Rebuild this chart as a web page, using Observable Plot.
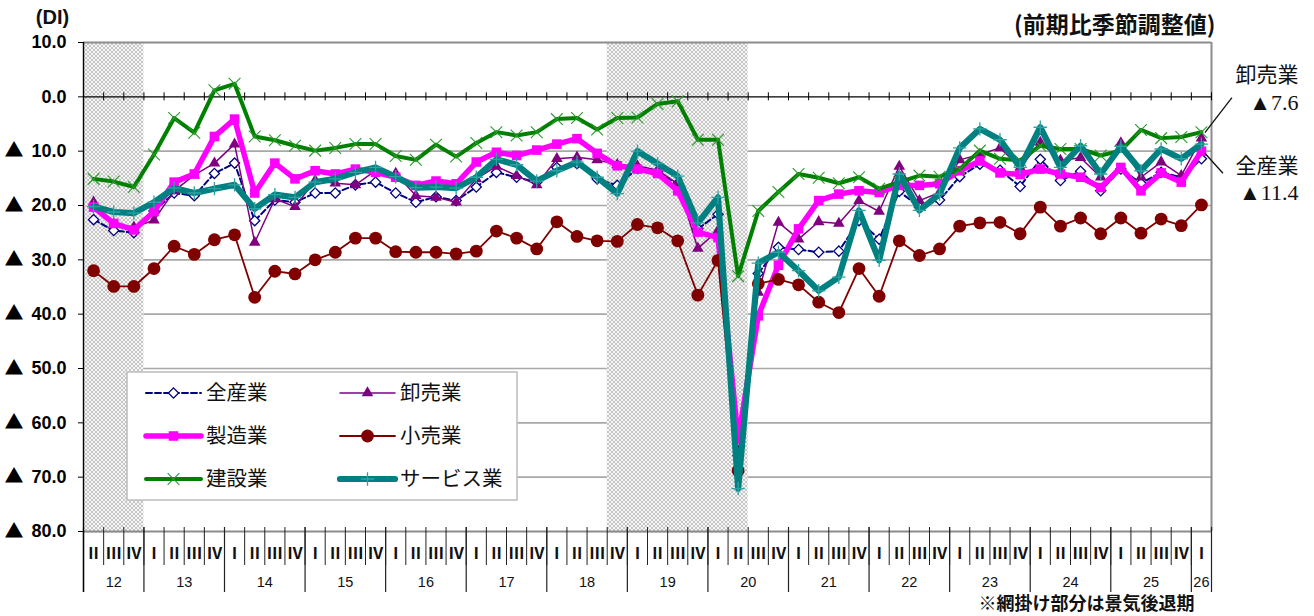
<!DOCTYPE html>
<html><head><meta charset="utf-8">
<script src="https://cdn.jsdelivr.net/npm/d3@7"></script>
<script src="https://cdn.jsdelivr.net/npm/@observablehq/plot@0.6"></script>
<style>
html,body{margin:0;padding:0;background:#fff;}
#chart{position:relative;width:1314px;height:616px;overflow:hidden;}
</style></head><body><div id="chart"></div>
<script>
// ---- data ----
const years = ["12","13","14","15","16","17","18","19","20","21","22","23","24","25","26"];
const quarterNames = [
  "Ⅱ","Ⅲ","Ⅳ",
  "Ⅰ","Ⅱ","Ⅲ","Ⅳ", "Ⅰ","Ⅱ","Ⅲ","Ⅳ", "Ⅰ","Ⅱ","Ⅲ","Ⅳ", "Ⅰ","Ⅱ","Ⅲ","Ⅳ",
  "Ⅰ","Ⅱ","Ⅲ","Ⅳ", "Ⅰ","Ⅱ","Ⅲ","Ⅳ", "Ⅰ","Ⅱ","Ⅲ","Ⅳ", "Ⅰ","Ⅱ","Ⅲ","Ⅳ",
  "Ⅰ","Ⅱ","Ⅲ","Ⅳ", "Ⅰ","Ⅱ","Ⅲ","Ⅳ", "Ⅰ","Ⅱ","Ⅲ","Ⅳ", "Ⅰ","Ⅱ","Ⅲ","Ⅳ",
  "Ⅰ","Ⅱ","Ⅲ","Ⅳ",
  "Ⅰ"
];
const recessionStart = ["12Ⅱ", "18Ⅳ"];
const recessionEnd   = ["12Ⅳ", "20Ⅱ"];

const seriesNames = ["全産業","卸売業","製造業","小売業","建設業","サービス業"];

const allIndustries = [-22.6,-24.6,-25.0,-21.0,-17.7,-18.2,-14.1,-12.2,-22.8,-19.0,-19.4,
  -17.7,-17.7,-16.2,-15.7,-17.7,-19.4,-18.4,-19.1,-16.6,-13.9,-14.8,
  -15.7,-13.0,-12.3,-15.1,-16.3,-13.2,-13.8,-16.0,-24.3,-21.6,-66.0,
  -32.5,-27.7,-28.1,-28.6,-28.4,-22.8,-26.2,-17.4,-20.3,-19.0,-14.7,-12.4,
  -13.5,-16.5,-11.5,-15.4,-13.7,-17.3,-13.3,-15.9,-13.9,-14.8,-11.4];
const wholesale = [-19.4,-23.5,-24.0,-22.7,-17.3,-14.4,-12.2,-8.7,-26.8,-18.8,-20.2,
  -15.4,-15.9,-16.2,-13.6,-14.1,-18.2,-18.5,-19.4,-15.1,-12.8,-14.5,
  -16.2,-11.4,-11.1,-11.6,-12.5,-12.7,-13.5,-16.0,-27.9,-24.6,-62.0,
  -36.0,-23.1,-26.2,-23.0,-23.3,-19.1,-21.1,-12.8,-19.1,-17.6,-11.6,-10.6,
  -9.4,-13.0,-8.4,-11.7,-11.2,-14.8,-8.5,-14.8,-12.0,-14.5,-7.6];
const manufacturing = [-20.3,-23.3,-24.5,-21.1,-15.7,-14.2,-7.3,-4.1,-17.7,-12.2,-15.1,
  -13.6,-14.2,-13.3,-13.9,-14.8,-16.3,-15.5,-16.0,-12.0,-10.2,-10.8,
  -9.8,-8.7,-7.7,-10.4,-12.7,-13.3,-14.1,-17.3,-24.9,-25.9,-63.0,
  -40.3,-31.0,-24.3,-19.1,-17.9,-17.3,-17.6,-16.3,-16.3,-16.0,-13.6,-11.8,
  -14.0,-14.3,-13.3,-14.2,-14.8,-16.7,-13.0,-17.3,-14.0,-15.7,-10.0];
const retail = [-32.0,-34.9,-34.9,-31.6,-27.5,-29.0,-26.3,-25.4,-36.9,-32.1,-32.6,
  -30.0,-28.6,-26.0,-26.0,-28.5,-28.6,-28.6,-28.9,-28.4,-24.7,-26.0,
  -28.0,-23.0,-25.7,-26.5,-26.6,-23.5,-24.1,-26.5,-36.5,-30.1,-68.8,
  -34.4,-33.6,-34.6,-37.8,-39.7,-31.6,-36.7,-26.5,-29.2,-28.0,-23.8,-23.2,
  -23.1,-25.2,-20.3,-23.8,-22.3,-25.2,-22.3,-25.1,-22.5,-23.7,-19.9];
const construction = [-15.1,-15.6,-16.6,-10.6,-3.9,-6.6,1.2,2.4,-7.3,-8.0,-9.0,
  -9.9,-9.4,-8.7,-8.7,-10.9,-11.6,-8.8,-11.0,-8.5,-6.5,-7.1,
  -6.5,-4.1,-3.9,-6.0,-3.9,-3.8,-1.3,-0.8,-7.9,-7.9,-33.0,
  -21.0,-17.5,-14.2,-14.9,-15.9,-14.8,-16.9,-15.7,-14.5,-14.7,-13.3,-9.9,
  -11.4,-11.7,-9.0,-9.6,-9.6,-10.8,-9.9,-6.1,-7.6,-7.4,-6.5];
const services = [-20.2,-21.2,-21.4,-19.4,-16.8,-17.7,-16.9,-16.2,-20.6,-18.0,-18.5,
  -15.7,-15.1,-13.9,-13.0,-14.7,-16.7,-16.6,-16.8,-14.8,-11.5,-12.5,
  -15.5,-13.6,-12.0,-14.8,-17.8,-10.0,-12.3,-14.6,-23.2,-18.5,-72.1,
  -30.6,-28.6,-32.0,-35.7,-33.2,-20.9,-30.1,-14.2,-20.9,-17.9,-9.4,-5.9,
  -7.9,-13.0,-5.6,-13.0,-9.0,-14.2,-9.1,-13.6,-9.6,-11.4,-8.7];
const seriesValues = [allIndustries, wholesale, manufacturing, retail, construction, services];

const yTicks = [10, 0, -10, -20, -30, -40, -50, -60, -70, -80];
const gridValues = [-10, -20, -30, -40, -50, -60, -70];

// ---- styles ----
const styles = {
  "全産業":   {stroke:"#000080", sw:2,   dash:"6,3", symbol:"diamond2", r:4.6, fill:"white",   mstroke:"#000080", msw:1.3},
  "卸売業":   {stroke:"#800080", sw:1.5, dash:null,  symbol:"triangle", r:4.3, fill:"#800080", mstroke:"none",    msw:0},
  "製造業":   {stroke:"#ff00ff", sw:5.5, dash:null,  symbol:"square",   r:5.4, fill:"#ff00ff", mstroke:"none",    msw:0},
  "小売業":   {stroke:"#800000", sw:1.8, dash:null,  symbol:"circle",   r:6.4, fill:"#800000", mstroke:"none",    msw:0},
  "建設業":   {stroke:"#008000", sw:4,   dash:null,  symbol:"times",    r:5.4, fill:"none",    mstroke:"#2a9a2a", msw:1.1},
  "サービス業":{stroke:"#008080", sw:6.2, dash:null,  symbol:"plus",     r:4.4, fill:"none",    mstroke:"#2fa3a3", msw:1.3}
};
const JP = "'Noto Sans CJK JP', sans-serif";
const LS = "'Liberation Sans', Arial, sans-serif";

// ---- derived ----
const n = quarterNames.length;
const idx = d3.range(n);
const yearOf = [];
{ let y = 0; idx.forEach(i => { if (i > 0 && quarterNames[i] === "Ⅰ") y++; yearOf.push(y); }); }
const codes = idx.map(i => years[yearOf[i]] + quarterNames[i]);
const bounds = d3.range(n + 1).map(b => b - 0.5);
const yearBounds = [-0.5, ...idx.filter(i => i > 0 && quarterNames[i] === "Ⅰ").map(i => i - 0.5), n - 0.5];
const yearCenters = years.map((y, k) => ({year: y, x: d3.mean(idx.filter(i => yearOf[i] === k))}));
const recessions = recessionStart.map((s, k) => ({x1: codes.indexOf(s) - 0.5, x2: codes.indexOf(recessionEnd[k]) + 0.5}));
const yMin = d3.min(yTicks), yMax = d3.max(yTicks);
const fmtY = v => Math.abs(v).toFixed(1);
const fmtV = v => (v < 0 ? "▲" : "") + Math.abs(v).toFixed(1);

const seriesMarks = [];
seriesNames.forEach((name, k) => {
  const s = styles[name];
  const vals = seriesValues[k];
  seriesMarks.push(Plot.line(idx, {x: i => i, y: i => vals[i], stroke: s.stroke, strokeWidth: s.sw,
    strokeDasharray: s.dash || undefined, strokeLinejoin: "round", strokeLinecap: "round"}));
  seriesMarks.push(Plot.dot(idx, {x: i => i, y: i => vals[i], symbol: s.symbol, r: s.r, fill: s.fill,
    stroke: s.mstroke, strokeWidth: s.msw}));
});

const last = n - 1;
const wIdx = seriesNames.indexOf("卸売業"), aIdx = seriesNames.indexOf("全産業");

const chart = Plot.plot({
  width: 1314, height: 616,
  marginLeft: 83, marginRight: 103, marginTop: 42, marginBottom: 85,
  x: {domain: [-0.5, n - 0.5], axis: null},
  y: {domain: [yMin, yMax], axis: null},
  style: {background: "white", overflow: "visible", fontFamily: JP},
  marks: [
    Plot.ruleY(gridValues, {y: d => d, stroke: "#a8a8a8", strokeWidth: 1.6}),
    Plot.rect(recessions, {x1: "x1", x2: "x2", y1: () => yMin, y2: () => yMax, fill: "url(#hatch)", insetBottom: -2}),
    Plot.ruleY([yMax], {y: d => d, stroke: "#8c8c8c", strokeWidth: 2}),
    Plot.ruleY([yMin], {y: d => d, stroke: "#8c8c8c", strokeWidth: 2}),
    Plot.ruleX([n - 0.5], {x: d => d, y1: () => yMax, y2: () => yMin, stroke: "#8c8c8c", strokeWidth: 2}),
    Plot.ruleY([0], {y: d => d, stroke: "#000", strokeWidth: 1.4}),
    Plot.ruleX(bounds, {x: d => d, y1: () => 0, y2: () => 0, insetTop: -4, insetBottom: -4, stroke: "#000", strokeWidth: 1}),
    // bottom category axis
    Plot.ruleX(bounds, {x: d => d, y1: () => yMin, y2: () => yMin, insetTop: -4, insetBottom: -34, stroke: "#222", strokeWidth: 1}),
    Plot.ruleX(yearBounds, {x: d => d, y1: () => yMin, y2: () => yMin, insetTop: -4, insetBottom: -61, stroke: "#222", strokeWidth: 1.2}),
    Plot.text(idx, {x: i => i, y: () => yMin, dy: 22, text: i => quarterNames[i], fontSize: 16, fontWeight: "bold", fill: "#111", fontFamily: JP}),
    Plot.text(yearCenters, {x: "x", y: () => yMin, dy: 51, text: "year", fontSize: 14.5, fill: "#111", fontFamily: LS}),
    // left axis
    Plot.ruleX([-0.5], {x: d => d, y1: () => yMax, y2: () => yMin, insetBottom: -61, stroke: "#000", strokeWidth: 1.4}),
    Plot.axisY(yTicks, {anchor: "left", tickSize: 5, tickPadding: 12, tickFormat: fmtY, label: null,
      fontSize: 18, fontWeight: "bold", fontFamily: LS, stroke: "#000", fill: "#000"}),
    Plot.text(yTicks.filter(v => v < 0), {frameAnchor: "left", y: d => d, text: () => "▲", dx: -79, textAnchor: "start",
      fontSize: 19, fontFamily: JP, fill: "#000"}),
    ...seriesMarks,
    // end annotations
    Plot.text([last], {x: i => i, y: i => wholesale[i], text: () => seriesNames[wIdx], dx: 97, dy: -63, textAnchor: "end", fontSize: 21, fontFamily: JP, fill: "#111"}),
    Plot.text([last], {x: i => i, y: i => wholesale[i], text: i => fmtV(wholesale[i]), dx: 97, dy: -35, textAnchor: "end", fontSize: 22, fontFamily: "'Liberation Serif', serif", fill: "#111"}),
    Plot.text([last], {x: i => i, y: i => allIndustries[i], text: () => seriesNames[aIdx], dx: 97, dy: 7, textAnchor: "end", fontSize: 21, fontFamily: JP, fill: "#111"}),
    Plot.text([last], {x: i => i, y: i => allIndustries[i], text: i => fmtV(allIndustries[i]), dx: 97, dy: 34, textAnchor: "end", fontSize: 22, fontFamily: "'Liberation Serif', serif", fill: "#111"}),
    // header / footer texts
    Plot.text(["(DI)"], {frameAnchor: "top-left", dx: -31, dy: -33, text: d => d, fontSize: 20, fontWeight: "bold", fontFamily: LS, fill: "#111", textAnchor: "middle"}),
    Plot.text(["(前期比季節調整値)"], {frameAnchor: "top-right", dx: 4, dy: -26, text: d => d, fontSize: 23, fontWeight: "bold", fontFamily: JP, fill: "#111", textAnchor: "end"}),
    Plot.text(["※網掛け部分は景気後退期"], {frameAnchor: "bottom-right", dx: -17, dy: 78, text: d => d, fontSize: 18, fontWeight: "bold", fontFamily: JP, fill: "#111", textAnchor: "end"})
  ]
});
document.getElementById("chart").appendChild(chart);

// ---- pattern, leader lines, legend ----
const svg = d3.select(chart);
const defs = svg.insert("defs", ":first-child");
const pat = defs.append("pattern").attr("id", "hatch").attr("patternUnits", "userSpaceOnUse").attr("width", 4).attr("height", 4);
pat.append("rect").attr("width", 4).attr("height", 4).attr("fill", "#f6f6f6");
pat.append("path").attr("d", "M0,0L4,4M4,0L0,4").attr("stroke", "#c6c6c6").attr("stroke-width", 1);

const xs = chart.scale("x"), ys = chart.scale("y");
const px = xs.apply(last);
const wy = ys.apply(wholesale[last]), ay = ys.apply(allIndustries[last]);
const lead = svg.append("g").attr("stroke", "#111").attr("stroke-width", 1.3);
lead.append("line").attr("x1", px + 4).attr("y1", wy - 5).attr("x2", px + 31).attr("y2", wy - 40);
lead.append("line").attr("x1", px + 4).attr("y1", ay - 5).attr("x2", px + 22).attr("y2", ay + 15);

const symMap = {diamond2: d3.symbolDiamond2, triangle: d3.symbolTriangle, square: d3.symbolSquare,
  circle: d3.symbolCircle, times: d3.symbolTimes, plus: d3.symbolPlus};
const lg = svg.append("g");
lg.append("rect").attr("x", 127).attr("y", 372).attr("width", 390).attr("height", 128)
  .attr("fill", "white").attr("stroke", "#bdbdbd").attr("stroke-width", 1.5);
const legendOrder = ["全産業","卸売業","製造業","小売業","建設業","サービス業"];
legendOrder.forEach((name, k) => {
  const s = styles[name];
  const col = k % 2, row = Math.floor(k / 2);
  const x0 = col === 0 ? 146 : 340, x1 = col === 0 ? 201 : 395;
  const cy = 393 + row * 43;
  const g = lg.append("g");
  g.append("line").attr("x1", x0).attr("x2", x1).attr("y1", cy).attr("y2", cy)
    .attr("stroke", s.stroke).attr("stroke-width", s.sw).attr("stroke-linecap", "round")
    .attr("stroke-dasharray", s.dash);
  g.append("path").attr("transform", `translate(${(x0 + x1) / 2},${cy})`)
    .attr("d", d3.symbol(symMap[s.symbol], Math.PI * s.r * s.r)())
    .attr("fill", s.fill).attr("stroke", s.mstroke).attr("stroke-width", s.msw);
  g.append("text").attr("x", x1 + 5).attr("y", cy).attr("dy", "0.36em").attr("text-anchor", "start")
    .attr("font-family", JP).attr("font-size", 20.5).attr("fill", "#111").text(name);
});
</script></body></html>
